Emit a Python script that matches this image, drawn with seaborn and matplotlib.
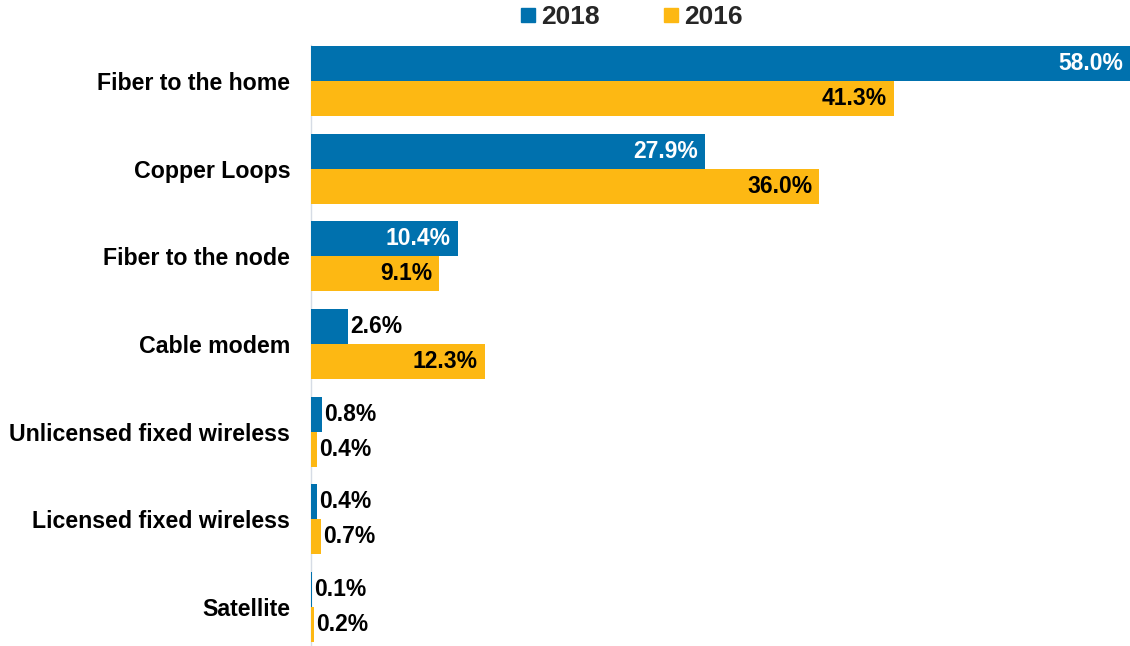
import matplotlib
matplotlib.use("Agg")
import matplotlib.pyplot as plt
from matplotlib.lines import Line2D
import seaborn as sns
import pandas as pd

categories = ["Fiber to the home", "Copper Loops", "Fiber to the node", "Cable modem",
              "Unlicensed fixed wireless", "Licensed fixed wireless", "Satellite"]
years = ["2018", "2016"]
share_2018 = [58.0, 27.9, 10.4, 2.6, 0.8, 0.4, 0.1]
share_2016 = [41.3, 36.0, 9.1, 12.3, 0.4, 0.7, 0.2]

colors = {"2018": "#0071AE", "2016": "#FDB813"}

df = pd.DataFrame({
    "Technology": categories * 2,
    "Year": ["2018"] * len(categories) + ["2016"] * len(categories),
    "Share": share_2018 + share_2016,
})

sns.set_theme(style="white")
plt.rcParams["font.family"] = ["Liberation Sans", "DejaVu Sans"]

W, H = 1130, 646
fig = plt.figure(figsize=(W / 100, H / 100), dpi=100)
ax = fig.add_axes([311 / W, 0, 819 / W, 601 / H])

sns.barplot(data=df, y="Technology", x="Share", hue="Year", hue_order=years,
            order=categories, palette=colors, orient="h", width=0.8,
            saturation=1, legend=False, linewidth=0, edgecolor="none", ax=ax)

ax.set_xlim(0, 58.0)
ax.set_ylim(6.445, -0.41)
ax.set_xlabel("")
ax.set_ylabel("")
ax.set_xticks([])
ax.tick_params(axis="y", length=0, pad=15)
for lab in ax.get_yticklabels():
    lab.set_fontweight("bold")
    lab.set_fontsize(16.7)
    lab.set_color("black")

for side in ["top", "right", "bottom"]:
    ax.spines[side].set_visible(False)
ax.spines["left"].set_color("#D6DCE5")
ax.spines["left"].set_linewidth(1.0)
ax.spines["left"].set_zorder(0.5)
for bar in ax.patches:
    bar.set_zorder(2)

# Value labels: inside the bar end for long bars, just past the end for short ones
for cont, year in zip(ax.containers, years):
    for bar in cont:
        v = bar.get_width()
        y = bar.get_y() + bar.get_height() / 2
        txt = f"{v:.1f}%"
        if v >= 5:
            color = "white" if year == "2018" else "black"
            ax.annotate(txt, (v, y), xytext=(-5, 0), textcoords="offset points",
                        ha="right", va="center", fontsize=16.5, fontweight="bold",
                        color=color, zorder=3)
        else:
            ax.annotate(txt, (v, y), xytext=(1.5, 0), textcoords="offset points",
                        ha="left", va="center", fontsize=16.5, fontweight="bold",
                        color="black", zorder=3)

handles = [Line2D([], [], marker="s", linestyle="none", markersize=10.5,
                  markerfacecolor=colors[y], markeredgecolor=colors[y]) for y in years]
fig.legend(handles, years, loc="center", bbox_to_anchor=(629 / W, 1 - 17 / H),
           ncol=2, frameon=False, handletextpad=0.0, columnspacing=2.2,
           handlelength=1.0, prop={"weight": "bold", "size": 19})

fig.savefig("out.png", dpi=100)
